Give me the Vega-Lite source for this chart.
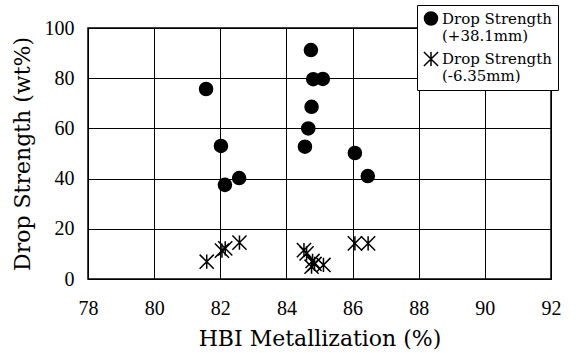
{
  "$schema": "https://vega.github.io/schema/vega-lite/v6.json",
  "autosize": {"type": "none"},
  "width": 463,
  "height": 251,
  "padding": {"left": 88, "top": 28, "right": 26, "bottom": 74},
  "background": "white",
  "config": {
    "view": {"stroke": "black", "strokeWidth": 1.5},
    "font": "DejaVu Serif",
    "axis": {
      "domainColor": "black",
      "gridColor": "black",
      "gridOpacity": 1,
      "gridWidth": 1,
      "ticks": false,
      "labelColor": "black",
      "labelFont": "Liberation Serif",
      "labelFontSize": 20,
      "titleFont": "DejaVu Serif",
      "titleFontSize": 22,
      "titleFontWeight": "normal",
      "titleColor": "black"
    }
  },
  "data": {
    "values": [
      {"x": 81.57, "y": 75.7, "series": "Drop Strength|(+38.1mm)"},
      {"x": 82.02, "y": 53.0, "series": "Drop Strength|(+38.1mm)"},
      {"x": 82.14, "y": 37.5, "series": "Drop Strength|(+38.1mm)"},
      {"x": 82.57, "y": 40.2, "series": "Drop Strength|(+38.1mm)"},
      {"x": 84.74, "y": 91.2, "series": "Drop Strength|(+38.1mm)"},
      {"x": 84.81, "y": 79.6, "series": "Drop Strength|(+38.1mm)"},
      {"x": 85.1, "y": 79.7, "series": "Drop Strength|(+38.1mm)"},
      {"x": 84.76, "y": 68.6, "series": "Drop Strength|(+38.1mm)"},
      {"x": 84.66, "y": 60.0, "series": "Drop Strength|(+38.1mm)"},
      {"x": 84.56, "y": 52.7, "series": "Drop Strength|(+38.1mm)"},
      {"x": 86.07, "y": 50.2, "series": "Drop Strength|(+38.1mm)"},
      {"x": 86.46, "y": 41.0, "series": "Drop Strength|(+38.1mm)"},
      {"x": 81.59, "y": 6.9, "series": "Drop Strength|(-6.35mm)"},
      {"x": 82.05, "y": 11.3, "series": "Drop Strength|(-6.35mm)"},
      {"x": 82.15, "y": 12.2, "series": "Drop Strength|(-6.35mm)"},
      {"x": 82.58, "y": 14.5, "series": "Drop Strength|(-6.35mm)"},
      {"x": 84.53, "y": 11.5, "series": "Drop Strength|(-6.35mm)"},
      {"x": 84.61, "y": 10.2, "series": "Drop Strength|(-6.35mm)"},
      {"x": 84.79, "y": 7.2, "series": "Drop Strength|(-6.35mm)"},
      {"x": 84.76, "y": 4.9, "series": "Drop Strength|(-6.35mm)"},
      {"x": 84.85, "y": 6.0, "series": "Drop Strength|(-6.35mm)"},
      {"x": 85.12, "y": 5.6, "series": "Drop Strength|(-6.35mm)"},
      {"x": 86.07, "y": 14.2, "series": "Drop Strength|(-6.35mm)"},
      {"x": 86.47, "y": 14.2, "series": "Drop Strength|(-6.35mm)"}
    ]
  },
  "mark": {"type": "point", "opacity": 1, "strokeWidth": 1.5, "stroke": "black"},
  "encoding": {
    "x": {
      "field": "x", "type": "quantitative",
      "scale": {"domain": [78, 92], "nice": false, "zero": false},
      "axis": {"values": [78, 80, 82, 84, 86, 88, 90, 92], "title": "HBI Metallization (%)", "labelPadding": 19, "titlePadding": 10, "labelFlush": false}
    },
    "y": {
      "field": "y", "type": "quantitative",
      "scale": {"domain": [0, 100], "nice": false},
      "axis": {"values": [0, 20, 40, 60, 80, 100], "title": "Drop Strength (wt%)", "labelPadding": 14, "titlePadding": 10}
    },
    "shape": {
      "field": "series", "type": "nominal",
      "scale": {
        "domain": ["Drop Strength|(+38.1mm)", "Drop Strength|(-6.35mm)"],
        "range": ["circle", "M-1,-1L1,1M-1,1L1,-1M0,-1L0,1"]
      },
      "legend": {
        "title": null,
        "orient": "none",
        "legendX": 329,
        "legendY": -23,
        "fillColor": "white",
        "strokeColor": "black",
        "padding": 6,
        "labelExpr": "split(datum.label, '|')",
        "labelFont": "DejaVu Serif",
        "labelFontSize": 15,
        "labelColor": "black",
        "labelLimit": 300,
        "labelOffset": 3,
        "symbolStrokeColor": "black",
        "symbolStrokeWidth": 1.5,
        "rowPadding": 4
      }
    },
    "fill": {
      "field": "series", "type": "nominal",
      "scale": {"domain": ["Drop Strength|(+38.1mm)", "Drop Strength|(-6.35mm)"], "range": ["black", "transparent"]}
    },
    "size": {
      "field": "series", "type": "nominal",
      "scale": {"domain": ["Drop Strength|(+38.1mm)", "Drop Strength|(-6.35mm)"], "range": [170, 200]}
    }
  }
}
